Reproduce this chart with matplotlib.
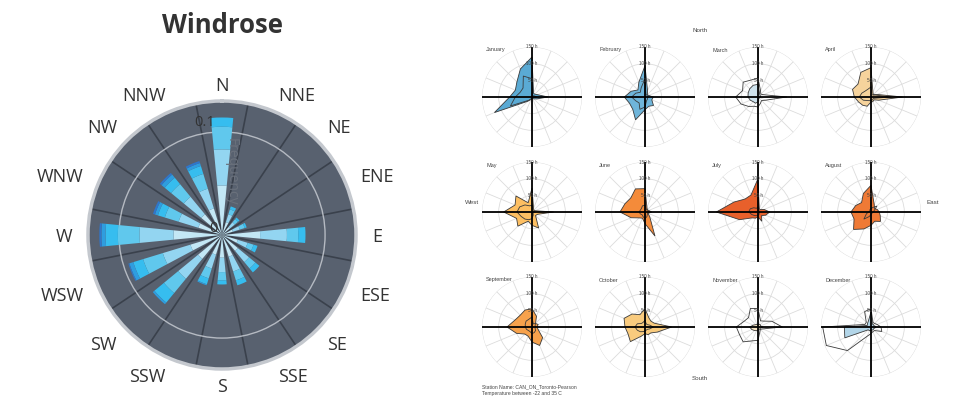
import numpy as np
import matplotlib.pyplot as plt

# --- windrose data (frequency per direction, stacked by wind speed class) ---
directions = ['N', 'NNE', 'NE', 'ENE', 'E', 'ESE', 'SE', 'SSE',
              'S', 'SSW', 'SW', 'WSW', 'W', 'WNW', 'NW', 'NNW']
speed_0_2 = [0.048, 0.013, 0.010, 0.011, 0.037, 0.016, 0.020, 0.022,
             0.022, 0.020, 0.030, 0.032, 0.047, 0.024, 0.026, 0.027]
speed_2_4 = [0.035, 0.008, 0.006, 0.007, 0.026, 0.010, 0.014, 0.015,
             0.014, 0.014, 0.025, 0.028, 0.033, 0.020, 0.022, 0.020]
speed_4_6 = [0.022, 0.005, 0.004, 0.005, 0.011, 0.006, 0.008, 0.009,
             0.008, 0.010, 0.018, 0.020, 0.021, 0.014, 0.016, 0.015]
speed_6_8 = [0.009, 0.003, 0.002, 0.002, 0.007, 0.004, 0.005, 0.005,
             0.004, 0.006, 0.012, 0.010, 0.012, 0.007, 0.008, 0.008]
speed_8_10 = [0.000, 0.000, 0.000, 0.000, 0.000, 0.000, 0.000, 0.000,
              0.000, 0.001, 0.002, 0.004, 0.004, 0.003, 0.004, 0.003]
speed_10_up = [0.000, 0.000, 0.000, 0.000, 0.000, 0.000, 0.000, 0.000,
               0.000, 0.000, 0.000, 0.001, 0.002, 0.002, 0.002, 0.002]
speed_colors = ['#c3e7f5', '#93d5f1', '#60c8ed', '#36bdef', '#2e9ddf', '#2f76cb']

# --- monthly wind hours per direction (N clockwise) ---
months = ['January', 'February', 'March', 'April', 'May', 'June',
          'July', 'August', 'September', 'October', 'November', 'December']
month_colors = ['#5aaad4', '#6fb5da', '#cfe3ee', '#f6d39c', '#fdbf62', '#f48b3a',
                '#e8602b', '#ef7a36', '#f7a24c', '#f9cb7e', '#f5e4c2', '#b2d5e8']
hours_filled = [
    [120, 12, 12, 18, 48, 15, 8, 5, 5, 8, 18, 122, 67, 54, 64, 91],
    [94, 20, 10, 12, 25, 22, 36, 30, 38, 74, 52, 50, 62, 45, 30, 48],
    [38, 12, 8, 8, 8, 5, 5, 5, 15, 20, 20, 25, 30, 32, 35, 38],
    [88, 15, 10, 20, 95, 25, 12, 15, 15, 30, 35, 40, 50, 60, 55, 80],
    [72, 12, 8, 10, 65, 18, 15, 52, 40, 30, 60, 50, 85, 55, 68, 30],
    [70, 15, 10, 12, 20, 10, 20, 78, 35, 20, 25, 45, 75, 65, 60, 75],
    [100, 10, 10, 20, 35, 25, 15, 30, 15, 20, 25, 60, 125, 78, 55, 55],
    [80, 25, 15, 20, 25, 30, 40, 30, 40, 55, 74, 55, 60, 50, 40, 60],
    [55, 35, 15, 20, 15, 20, 45, 60, 45, 30, 30, 50, 75, 55, 50, 55],
    [55, 30, 25, 30, 80, 40, 25, 25, 20, 30, 62, 55, 60, 68, 55, 40],
    [10, 8, 10, 8, 15, 8, 8, 8, 10, 12, 15, 20, 25, 15, 10, 8],
    [45, 10, 10, 10, 15, 10, 10, 10, 10, 12, 12, 85, 80, 12, 15, 20],
]
hours_outline = [
    [55, 5, 5, 8, 15, 5, 3, 3, 3, 5, 14, 70, 50, 38, 38, 68],
    [55, 8, 8, 8, 10, 8, 10, 12, 30, 40, 25, 30, 40, 30, 20, 30],
    [57, 20, 12, 18, 86, 25, 15, 20, 30, 30, 40, 55, 67, 50, 63, 55],
    [30, 8, 8, 15, 60, 10, 8, 10, 10, 12, 15, 25, 35, 30, 25, 25],
    [20, 8, 5, 5, 10, 5, 5, 10, 20, 25, 30, 35, 45, 40, 30, 20],
    [20, 10, 8, 8, 12, 8, 10, 15, 20, 15, 12, 15, 18, 15, 15, 20],
    [15, 5, 5, 5, 5, 5, 5, 8, 10, 12, 15, 20, 28, 25, 18, 12],
    [10, 15, 25, 10, 8, 5, 5, 5, 8, 15, 30, 15, 8, 5, 5, 8],
    [30, 10, 15, 10, 10, 10, 15, 18, 20, 15, 15, 18, 20, 22, 25, 25],
    [20, 10, 10, 15, 25, 15, 10, 10, 12, 15, 20, 25, 30, 25, 15, 15],
    [55, 20, 25, 45, 73, 15, 10, 15, 40, 45, 63, 60, 65, 45, 40, 60],
    [55, 15, 15, 20, 30, 35, 15, 15, 20, 30, 100, 145, 145, 20, 20, 50],
]
hour_rings = [50, 100, 150]

W, H = 955, 396
fig = plt.figure(figsize=(W / 100, H / 100), dpi=100)
fig.patch.set_facecolor('white')


def px_rect(cx, cy, r):
    # axes rectangle (figure fraction) for a circle centred at pixel cx, cy
    return [(cx - r) / W, (H - cy - r) / H, 2 * r / W, 2 * r / H]


# ---------------- windrose ----------------
rose_cx, rose_cy, rose_r = 222, 235, 134
rmax = 0.13
ax = fig.add_axes(px_rect(rose_cx, rose_cy, rose_r), projection='polar')
ax.set_theta_zero_location('N')
ax.set_theta_direction(-1)
ax.set_facecolor('#58616f')
ax.set_ylim(0, rmax)
ax.spines['polar'].set_color('#c4c8ce')
ax.spines['polar'].set_linewidth(2.5)

theta = np.deg2rad(np.arange(16) * 22.5)
bottom = np.zeros(16)
for vals, col in zip([speed_0_2, speed_2_4, speed_4_6, speed_6_8, speed_8_10, speed_10_up],
                     speed_colors):
    ax.bar(theta, vals, width=np.deg2rad(11), bottom=bottom, color=col,
           edgecolor='none', zorder=3)
    bottom = bottom + np.array(vals)

ax.set_rticks([0.1])
ax.set_yticklabels([])
ax.set_thetagrids(np.arange(16) * 22.5 + 11.25, labels=[''] * 16)
ax.xaxis.grid(True, color='#3a414c', linewidth=1.2)
ax.yaxis.grid(True, color='#b5bac2', linewidth=1.0)
ax.set_axisbelow(True)

# direction labels: anchored just outside the rim, aligned away from the disc
for ang, name in zip(theta, directions):
    s, c = np.sin(ang), np.cos(ang)
    anchor = 145 + 5 * abs(s)
    ha = 'left' if s > 0.1 else ('right' if s < -0.1 else 'center')
    x = rose_cx + anchor * s
    y = rose_cy - anchor * c + 1.5 - 5.5 * c
    fig.text(x / W, 1 - y / H, name, ha=ha, va='center', fontsize=13,
             family='Open Sans', color='#333333')

fig.text(205 / W, 1 - 122 / H, '0.1', ha='center', va='center', fontsize=10.5,
         family='Open Sans', color='#333333')
fig.text(213 / W, 1 - 228 / H, '0', ha='center', va='center', fontsize=10.5,
         family='Open Sans', color='#333333')
fig.text(231 / W, 1 - 172 / H, 'Frequency', ha='center', va='center', fontsize=10,
         rotation=-90, family='Open Sans', color='#6a717c', zorder=5)
fig.text(222 / W, 1 - 33 / H, 'Windrose', ha='center', va='baseline', fontsize=18.5,
         fontweight='bold', family='Open Sans', color='#333333')

# ---------------- monthly radar grid ----------------
small = 'Liberation Sans'
theta_c = np.append(theta, theta[0])
for i, month in enumerate(months):
    row, col = divmod(i, 4)
    cx = 532 + 113 * col
    cy = 97 + 115 * row
    rax = fig.add_axes(px_rect(cx, cy, 50), projection='polar')
    rax.set_theta_zero_location('N')
    rax.set_theta_direction(-1)
    rax.set_ylim(0, 150)
    rax.set_rticks(hour_rings)
    rax.set_yticklabels([])
    rax.set_thetagrids(np.arange(16) * 22.5, labels=[''] * 16)
    rax.grid(True, color='#dcdcdc', linewidth=0.6)
    rax.spines['polar'].set_visible(False)
    rax.set_facecolor('none')

    filled = hours_filled[i] + hours_filled[i][:1]
    outline = hours_outline[i] + hours_outline[i][:1]
    rax.fill(theta_c, filled, facecolor=month_colors[i], edgecolor='#3a3a3a',
             linewidth=0.6, zorder=3)
    rax.plot(theta_c, outline, color='#3a3a3a', linewidth=0.6, zorder=4)

    # cross hairs
    for a in (0, np.pi / 2):
        rax.plot([a, a + np.pi], [150, 150], color='black', linewidth=1.3, zorder=5)
    for r in hour_rings:
        rax.text(0, r, f'{r} h', ha='center', va='center', fontsize=3.3,
                 family=small, color='#444444', zorder=6)
    fig.text((cx - 46) / W, 1 - (cy - 47) / H, month, ha='left', va='center',
             fontsize=4, family=small, color='#444444')

fig.text(700 / W, 1 - 30 / H, 'North', ha='center', va='center', fontsize=4.5,
         family=small, color='#444444')
fig.text(700 / W, 1 - 378 / H, 'South', ha='center', va='center', fontsize=4.5,
         family=small, color='#444444')
fig.text(472 / W, 1 - 203 / H, 'West', ha='center', va='center', fontsize=4.5,
         family=small, color='#444444')
fig.text(933 / W, 1 - 203 / H, 'East', ha='center', va='center', fontsize=4.5,
         family=small, color='#444444')
fig.text(482 / W, 1 - 387 / H, 'Station Name: CAN_ON_Toronto-Pearson', ha='left',
         va='center', fontsize=3.6, family=small, color='#444444')
fig.text(482 / W, 1 - 393 / H, 'Temperature between -22 and 35 C', ha='left',
         va='center', fontsize=3.6, family=small, color='#444444')

fig.savefig('out.png', dpi=100)
